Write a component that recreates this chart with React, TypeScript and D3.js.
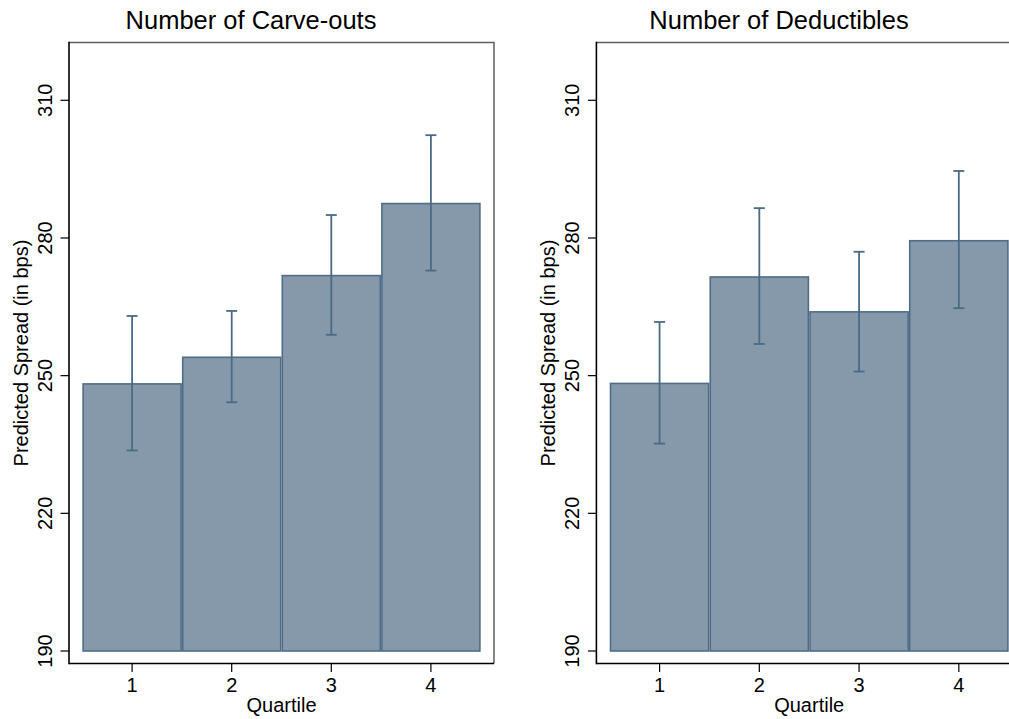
import React from "react";
import * as d3 from "d3";

const quartiles = [1, 2, 3, 4];
const yTicks = [190, 220, 250, 280, 310];

const carveMeans = [248.2, 254.0, 271.8, 287.5];
const carveLow = [233.7, 244.2, 258.9, 272.9];
const carveHigh = [263.0, 264.1, 285.0, 302.4];

const deductMeans = [248.3, 271.5, 263.9, 279.4];
const deductLow = [235.2, 256.9, 250.9, 264.7];
const deductHigh = [261.7, 286.5, 277.0, 294.6];

const panels = [
  { title: "Number of Carve-outs", means: carveMeans, low: carveLow, high: carveHigh, x0: 82.3, x1: 480.7, titleX: 251, tickX: 51.7, axisTitleX: 28 },
  { title: "Number of Deductibles", means: deductMeans, low: deductLow, high: deductHigh, x0: 609.7, x1: 1008.7, titleX: 779, tickX: 579, axisTitleX: 555 },
];

const FONT = "'Liberation Sans', Arial, Helvetica, sans-serif";
const FILL = "#8599aa";
const STROKE = "#4f6d87";
const ERR = "#4a6a85";

const y = d3.scaleLinear().domain([190, 310]).range([651, 100.3]);
const frameTop = 42.5;
const frameBottom = 663.5;

function Panel({ p }: { p: typeof panels[number] }) {
  const x = d3.scaleLinear().domain([0.5, 4.5]).range([p.x0, p.x1]);
  const unit = x(1) - x(0);
  const fl = x(0.5) - 13.3;
  const fr = x(4.5) + 13.3;
  const cx = (fl + fr) / 2;
  return (
    <g>
      <text x={p.titleX} y={29} textAnchor="middle" fontSize={25.5} fontFamily={FONT} fill="#000">{p.title}</text>
      {/* frame top/right */}
      <path d={`M${fl},${frameTop}H${fr}V${frameBottom}`} fill="none" stroke="#5f5f5f" strokeWidth={1.5} />
      {/* bars */}
      {quartiles.map((q, i) => (
        <rect key={"b" + q} x={x(q - 0.5) + 0.8} y={y(p.means[i])} width={unit - 1.6} height={y(190) - y(p.means[i])}
          fill={FILL} stroke={STROKE} strokeWidth={1.6} />
      ))}
      {/* error bars */}
      {quartiles.map((q, i) => (
        <g key={"e" + q} stroke={ERR} strokeWidth={1.8}>
          <line x1={x(q)} x2={x(q)} y1={y(p.high[i])} y2={y(p.low[i])} />
          <line x1={x(q) - 5.5} x2={x(q) + 5.5} y1={y(p.high[i])} y2={y(p.high[i])} />
          <line x1={x(q) - 5.5} x2={x(q) + 5.5} y1={y(p.low[i])} y2={y(p.low[i])} />
        </g>
      ))}
      {/* axes */}
      <line x1={fl} x2={fl} y1={frameTop - 0.75} y2={frameBottom + 0.75} stroke="#000" strokeWidth={1.6} />
      <line x1={fl} x2={fr} y1={frameBottom} y2={frameBottom} stroke="#000" strokeWidth={1.6} />
      {yTicks.map((t) => (
        <g key={"yt" + t}>
          <line x1={fl - 8.5} x2={fl} y1={y(t)} y2={y(t)} stroke="#000" strokeWidth={1.2} />
          <text transform={`translate(${p.tickX},${y(t)}) rotate(-90)`} textAnchor="middle" fontSize={20} fontFamily={FONT} fill="#000">{t}</text>
        </g>
      ))}
      {quartiles.map((q) => (
        <g key={"xt" + q}>
          <line x1={x(q)} x2={x(q)} y1={frameBottom} y2={frameBottom + 8.5} stroke="#000" strokeWidth={1.2} />
          <text x={x(q)} y={691.5} textAnchor="middle" fontSize={20} fontFamily={FONT} fill="#000">{q}</text>
        </g>
      ))}
      <text x={cx} y={712} textAnchor="middle" fontSize={20} fontFamily={FONT} fill="#000">Quartile</text>
      <text transform={`translate(${p.axisTitleX},${(frameTop + frameBottom) / 2}) rotate(-90)`} textAnchor="middle" fontSize={20} fontFamily={FONT} fill="#000">Predicted Spread (in bps)</text>
    </g>
  );
}

export default function App() {
  return (
    <svg width={1009} height={719} style={{ position: "absolute", left: 0, top: 0, background: "#fff" }}>
      <rect width={1009} height={719} fill="#fff" />
      {panels.map((p) => <Panel key={p.title} p={p} />)}
    </svg>
  );
}
